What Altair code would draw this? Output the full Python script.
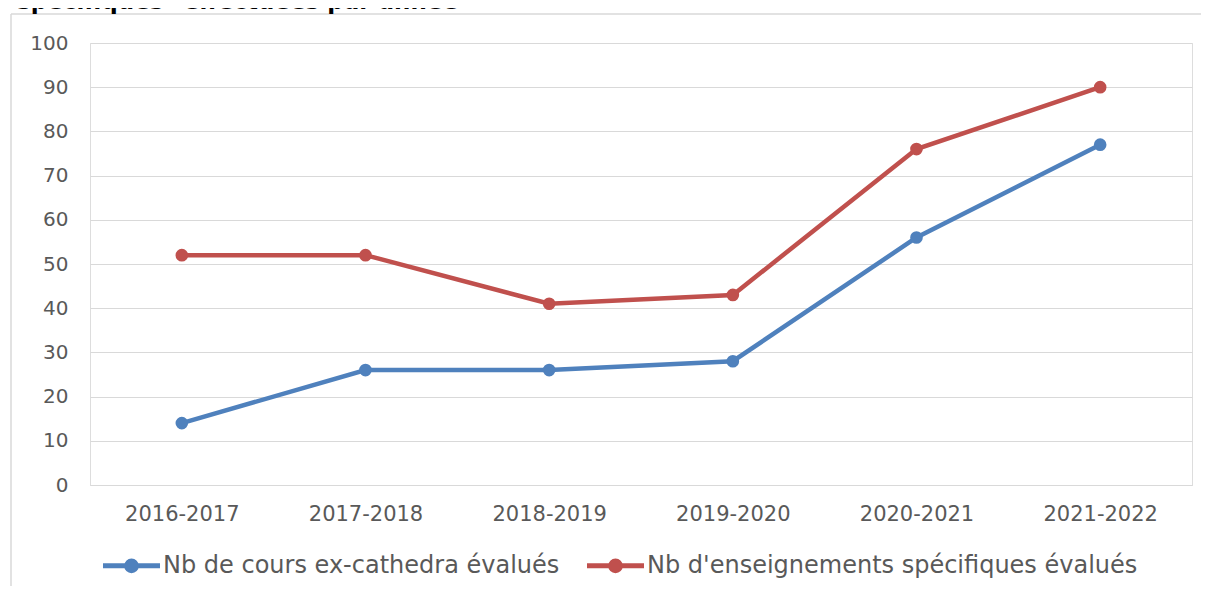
import altair as alt
import pandas as pd

years = ["2016-2017", "2017-2018", "2018-2019", "2019-2020", "2020-2021", "2021-2022"]
cours = [14, 26, 26, 28, 56, 77]
enseignements = [52, 52, 41, 43, 76, 90]
series_names = ["Nb de cours ex-cathedra évalués", "Nb d'enseignements spécifiques évalués"]
colors = ["#4f81bd", "#c0504d"]
title_text = "spécifiques* effectuées par année"

rows = []
for y, v in zip(years, cours):
    rows.append({"annee": y, "valeur": v, "serie": series_names[0]})
for y, v in zip(years, enseignements):
    rows.append({"annee": y, "valeur": v, "serie": series_names[1]})
df = pd.DataFrame(rows)

FONT = "DejaVu Sans"
TXT = "#595959"

legend_path = ("M-1,0 L1,0 M0.17,0 A0.17,0.17 0 1 1 -0.17,0 "
               "A0.17,0.17 0 1 1 0.17,0")

color = alt.Color(
    "serie:N",
    scale=alt.Scale(domain=series_names, range=colors),
    legend=alt.Legend(
        title=None, orient="none", direction="horizontal",
        legendX=10, legendY=491,
        symbolType=legend_path, symbolSize=3250, symbolStrokeWidth=5,
        labelFontSize=24, labelFont=FONT, labelColor=TXT,
        labelOffset=0, columnPadding=16, labelLimit=800,
    ),
)

x = alt.X(
    "annee:N", sort=years, title=None,
    scale=alt.Scale(paddingInner=0, paddingOuter=0, align=0.5),
    axis=alt.Axis(labelAngle=0, labelFontSize=21, labelFont=FONT, labelColor=TXT,
                  ticks=False, domain=True, domainColor="#d9d9d9", domainWidth=1,
                  labelPadding=18, grid=False),
)
y = alt.Y(
    "valeur:Q", title=None,
    scale=alt.Scale(domain=[0, 100], nice=False),
    axis=alt.Axis(values=list(range(0, 101, 10)), labelFontSize=20, labelFont=FONT,
                  labelColor=TXT, ticks=False, domain=False, labelPadding=22,
                  grid=True, gridColor="#d9d9d9", gridWidth=1),
)

base = alt.Chart(df)
lines = base.mark_line(strokeWidth=4.5).encode(x=x, y=y, color=color)
points = base.mark_circle(size=160, opacity=1).encode(x=x, y=y, color=color)

title = alt.Chart(pd.DataFrame({"t": [title_text]})).mark_text(
    align="left", baseline="alphabetic", fontSize=23, fontWeight="bold",
    font=FONT, color="#000000"
).encode(text="t:N", x=alt.value(-73), y=alt.value(-34))

frame_v = alt.Chart(pd.DataFrame({"a": [0]})).mark_rule(color="#d9d9d9", strokeWidth=1.5).encode(
    x=alt.value(-79), y=alt.value(-29), y2=alt.value(600))
frame_h = alt.Chart(pd.DataFrame({"a": [0]})).mark_rule(color="#d9d9d9", strokeWidth=1.5).encode(
    x=alt.value(-79), x2=alt.value(1300), y=alt.value(-29))

chart = alt.layer(frame_v, frame_h, title, lines, points).properties(
    width=1102, height=442,
    padding={"left": 82, "top": 35, "right": 9, "bottom": 101},
    autosize=alt.AutoSizeParams(type="none"),
).configure_view(stroke=None).configure(background="white")

chart.save("out.html", embed_options={"renderer": "svg", "actions": False})
